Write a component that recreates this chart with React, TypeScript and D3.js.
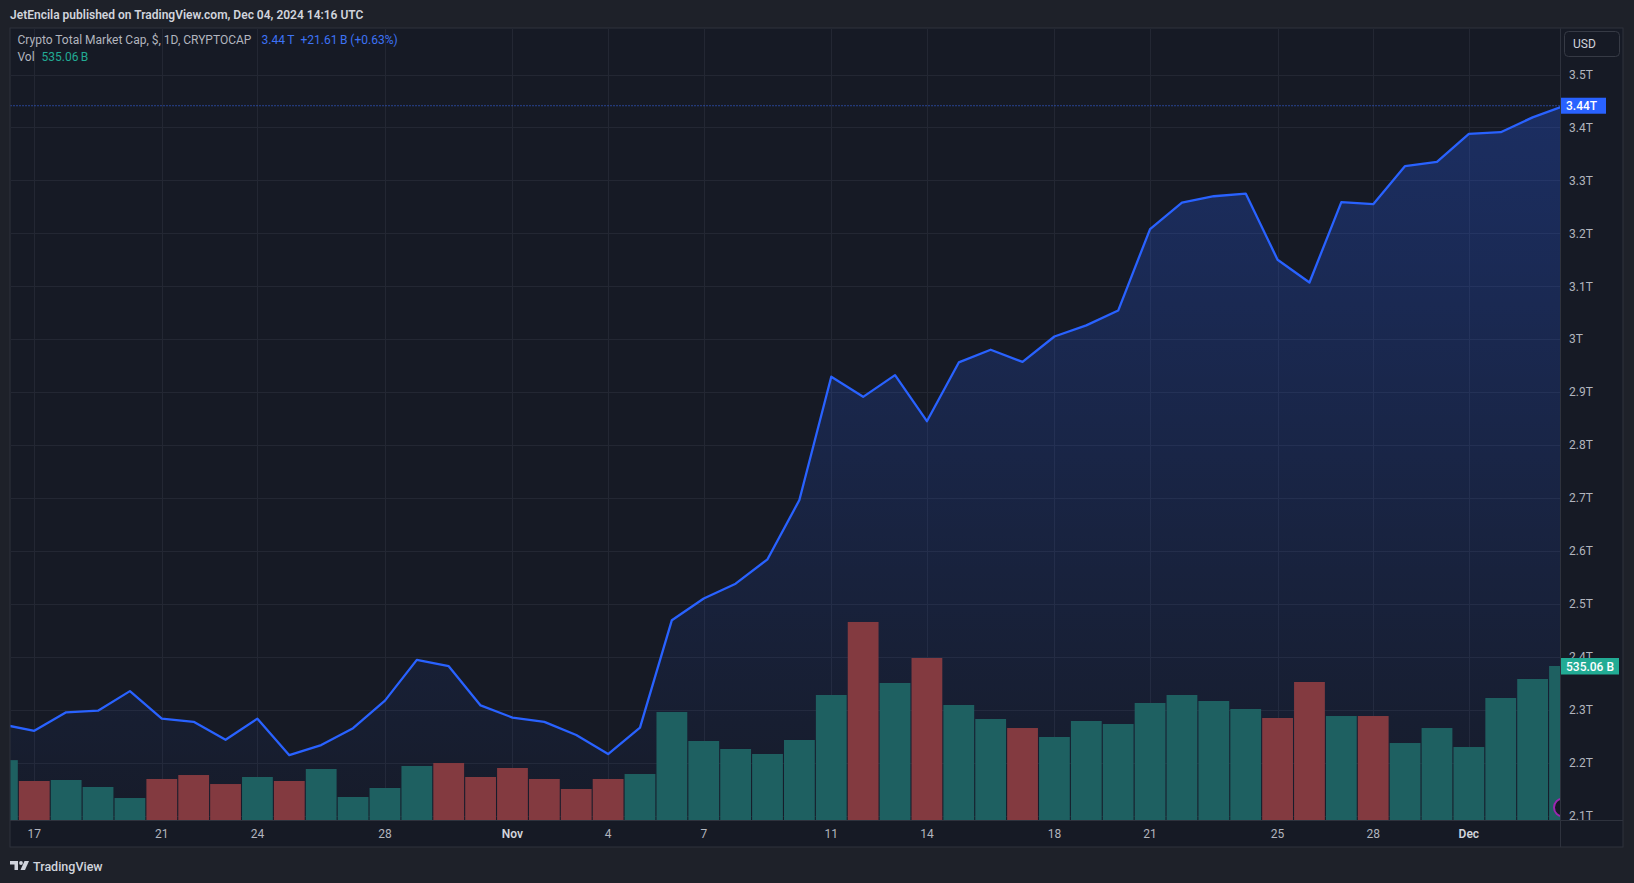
import React from "react";
import * as d3 from "d3";

// ---------- DATA ----------
const startDay = "2024-10-16";
const endDayExclusive = "2024-12-05";

// daily close, trillions USD (Oct 16 .. Dec 4)
const closes: number[] = [
  2.272, 2.26, 2.295, 2.298, 2.335, 2.283, 2.277, 2.243, 2.283, 2.214,
  2.233, 2.265, 2.317, 2.394, 2.382, 2.308, 2.285, 2.277, 2.252, 2.216,
  2.266, 2.469, 2.51, 2.538, 2.584, 2.696, 2.929, 2.891, 2.932, 2.845,
  2.956, 2.98, 2.957, 3.005, 3.026, 3.054, 3.208, 3.258, 3.27, 3.275,
  3.15, 3.107, 3.259, 3.255, 3.327, 3.335, 3.388, 3.391, 3.419, 3.441,
];

// daily volume, billions USD
const volumes: number[] = [
  208, 135.5, 139, 114.7, 76.4, 142.5, 156.3, 125, 149.4, 135.5,
  177.2, 79.9, 111.2, 187.6, 198, 149.4, 180.7, 142.5, 107.7, 142.5,
  159.8, 375.2, 274.5, 246.7, 229.3, 278, 434.3, 688, 476, 562.9,
  399.6, 350.9, 319.6, 288.4, 344, 333.5, 406.5, 434.3, 413.5, 385.7,
  354.4, 479.5, 361.3, 361.3, 267.5, 319.6, 253.6, 423.9, 489.9, 535.06,
];

// volume bar direction: 1 = up (teal), 0 = down (red)
const volumeUp: number[] = [
  1, 0, 1, 1, 1, 0, 0, 0, 1, 0,
  1, 1, 1, 1, 0, 0, 0, 0, 0, 0,
  1, 1, 1, 1, 1, 1, 1, 0, 1, 0,
  1, 1, 0, 1, 1, 1, 1, 1, 1, 1,
  0, 0, 1, 0, 1, 1, 1, 1, 1, 1,
];

const timeTickDays = [
  "2024-10-17", "2024-10-21", "2024-10-24", "2024-10-28", "2024-11-01",
  "2024-11-04", "2024-11-07", "2024-11-11", "2024-11-14", "2024-11-18",
  "2024-11-21", "2024-11-25", "2024-11-28", "2024-12-01",
];
const timeTickLabels = ["17", "21", "24", "28", "Nov", "4", "7", "11", "14", "18", "21", "25", "28", "Dec"];
const monthLabels = ["Nov", "Dec"];

const priceTicks = [2.1, 2.2, 2.3, 2.4, 2.5, 2.6, 2.7, 2.8, 2.9, 3.0, 3.1, 3.2, 3.3, 3.4, 3.5];
const priceTickLabels = ["2.1T", "2.2T", "2.3T", "2.4T", "2.5T", "2.6T", "2.7T", "2.8T", "2.9T", "3T", "3.1T", "3.2T", "3.3T", "3.4T", "3.5T"];

const headerText = "JetEncila published on TradingView.com, Dec 04, 2024 14:16 UTC";
const symbolText = "Crypto Total Market Cap, $, 1D, CRYPTOCAP";
const lastPriceText = "3.44\u2009T";
const changeText = "+21.61\u2009B (+0.63%)";
const volLabel = "Vol";
const volValueText = "535.06\u2009B";
const lastPriceAxisLabel = "3.44T";
const lastVolAxisLabel = "535.06 B";

// ---------- LAYOUT ----------
const W = 1634;
const H = 883;
const paneLeft = 10.5;
const paneRight = 1560.5;
const paneTop = 28.5;
const paneBottom = 820;
const frameRight = 1623;
const frameBottom = 847;

const COLORS = {
  page: "#1e2129",
  pane: "#161a25",
  grid: "#232733",
  border: "#2e323d",
  line: "#2962ff",
  up: "#1e6061",
  down: "#833a40",
  text: "#b2b5be",
  textBright: "#d1d4dc",
  teal: "#22ab94",
};

const FONT = "Roboto, 'Noto Sans', sans-serif";

export default function App() {
  const parse = d3.utcParse("%Y-%m-%d");
  const dates = d3.utcDay.range(parse(startDay)!, parse(endDayExclusive)!);

  const x = d3
    .scaleUtc()
    .domain([dates[0], dates[dates.length - 1]])
    .range([2.4, 1564.5]);
  const y = d3.scaleLinear().domain([2.1, 3.5]).range([815.5, 74.5]);
  const vy = d3.scaleLinear().domain([0, 535.06]).range([paneBottom, 666]);

  const barW = 30.8;

  const data = dates.map((d, i) => ({ d, c: closes[i], v: volumes[i], up: volumeUp[i] }));

  const line = d3
    .line<(typeof data)[number]>()
    .x((p) => x(p.d))
    .y((p) => y(p.c));
  const area = d3
    .area<(typeof data)[number]>()
    .x((p) => x(p.d))
    .y0(paneBottom)
    .y1((p) => y(p.c));

  const lastY = y(closes[closes.length - 1]);
  const lastVY = vy(volumes[volumes.length - 1]);
  const maxY = y(d3.max(closes)!);

  const tickDates = timeTickDays.map((s) => parse(s)!);

  return (
    <div style={{ position: "fixed", left: 0, top: 0, width: W, height: H }}>
      <svg width={W} height={H} style={{ display: "block", fontFamily: FONT }}>
        <defs>
          <clipPath id="pane-clip">
            <rect x={paneLeft} y={paneTop} width={paneRight - paneLeft} height={paneBottom - paneTop} />
          </clipPath>
          <linearGradient id="area-grad" gradientUnits="userSpaceOnUse" x1={0} y1={maxY} x2={0} y2={paneBottom}>
            <stop offset="0%" stopColor={COLORS.line} stopOpacity={0.28} />
            <stop offset="100%" stopColor={COLORS.line} stopOpacity={0.02} />
          </linearGradient>
        </defs>

        {/* page background */}
        <rect x={0} y={0} width={W} height={H} fill={COLORS.page} />

        {/* header */}
        <text x={10} y={19} fill={COLORS.textBright} fontSize={12} fontWeight={600}>
          {headerText}
        </text>

        {/* chart frame */}
        <rect x={10} y={paneTop - 0.5} width={frameRight - 10} height={frameBottom - paneTop + 0.5} fill={COLORS.pane} stroke={COLORS.border} strokeWidth={1} />

        {/* grid */}
        <g clipPath="url(#pane-clip)">
          {priceTicks.map((t) => (
            <line key={"h" + t} x1={paneLeft} x2={paneRight} y1={Math.round(y(t)) + 0.5} y2={Math.round(y(t)) + 0.5} stroke={COLORS.grid} strokeWidth={1} />
          ))}
          {tickDates.map((d, i) => (
            <line key={"v" + i} x1={Math.round(x(d)) + 0.5} x2={Math.round(x(d)) + 0.5} y1={paneTop} y2={paneBottom} stroke={COLORS.grid} strokeWidth={1} />
          ))}
        </g>

        {/* area + volume + line */}
        <g clipPath="url(#pane-clip)">
          <path d={area(data) || ""} fill="url(#area-grad)" />
          {data.map((p, i) => (
            <rect
              key={"b" + i}
              x={x(p.d) - barW / 2}
              y={vy(p.v)}
              width={barW}
              height={paneBottom - vy(p.v)}
              fill={p.up ? COLORS.up : COLORS.down}
            />
          ))}
          <path d={line(data) || ""} fill="none" stroke={COLORS.line} strokeWidth={2.3} strokeLinejoin="round" />
          <line x1={paneLeft} x2={paneRight} y1={lastY} y2={lastY} stroke="#3a6dff" strokeWidth={1} strokeDasharray="1 2" />
          <circle cx={1563} cy={807.5} r={9} fill="#161a25" stroke="#9c27b0" strokeWidth={2} />
        </g>

        {/* axis separators */}
        <line x1={paneRight} x2={paneRight} y1={paneTop} y2={frameBottom} stroke={COLORS.border} strokeWidth={1} />
        <line x1={10} x2={frameRight} y1={paneBottom + 0.5} y2={paneBottom + 0.5} stroke={COLORS.border} strokeWidth={1} />

        {/* legend */}
        <text x={17.5} y={44} fontSize={12} fill={COLORS.text}>
          {symbolText}
        </text>
        <text x={261.5} y={44} fontSize={12} fill="#3d73f5">
          {lastPriceText}
        </text>
        <text x={300.5} y={44} fontSize={12} fill="#3d73f5">
          {changeText}
        </text>
        <text x={17.5} y={61} fontSize={12} fill={COLORS.text}>
          {volLabel}
        </text>
        <text x={41.5} y={61} fontSize={12} fill={COLORS.teal}>
          {volValueText}
        </text>

        {/* price axis */}
        {priceTicks.map((t, i) => (
          <text key={"pt" + t} x={1569} y={y(t)} dy="0.36em" fontSize={12} fill={COLORS.text}>
            {priceTickLabels[i]}
          </text>
        ))}
        <rect x={1561} y={lastY - 8} width={45} height={16} fill={COLORS.line} />
        <text x={1566} y={lastY} dy="0.36em" fontSize={12} fill="#ffffff" fontWeight={500}>
          {lastPriceAxisLabel}
        </text>
        <rect x={1561} y={lastVY - 8} width={58} height={16.5} fill={COLORS.teal} />
        <text x={1566} y={lastVY} dy="0.38em" fontSize={12} fill="#ffffff" fontWeight={500}>
          {lastVolAxisLabel}
        </text>

        {/* USD button */}
        <rect x={1564.5} y={31.5} width={55} height={25} rx={4} fill={COLORS.pane} stroke="#363a45" strokeWidth={1} />
        <text x={1573} y={44} dy="0.36em" fontSize={12} fill={COLORS.textBright}>
          USD
        </text>

        {/* time axis */}
        {tickDates.map((d, i) => (
          <text
            key={"tt" + i}
            x={x(d)}
            y={834}
            dy="0.36em"
            textAnchor="middle"
            fontSize={12}
            fontWeight={monthLabels.includes(timeTickLabels[i]) ? 600 : 400}
            fill={monthLabels.includes(timeTickLabels[i]) ? COLORS.textBright : COLORS.text}
          >
            {timeTickLabels[i]}
          </text>
        ))}

        {/* TradingView logo */}
        <g fill={COLORS.textBright}>
          <path d="M10 861 h8 v9 h-3.5 v-5.5 h-4.5 z" />
          <circle cx={21} cy={863} r={1.9} />
          <path d="M24.5 861 h4.5 l-4 9 h-4.5 z" />
        </g>
        <text x={33} y={866} dy="0.36em" fontSize={12.5} fontWeight={500} fill={COLORS.textBright}>
          TradingView
        </text>
      </svg>
    </div>
  );
}
